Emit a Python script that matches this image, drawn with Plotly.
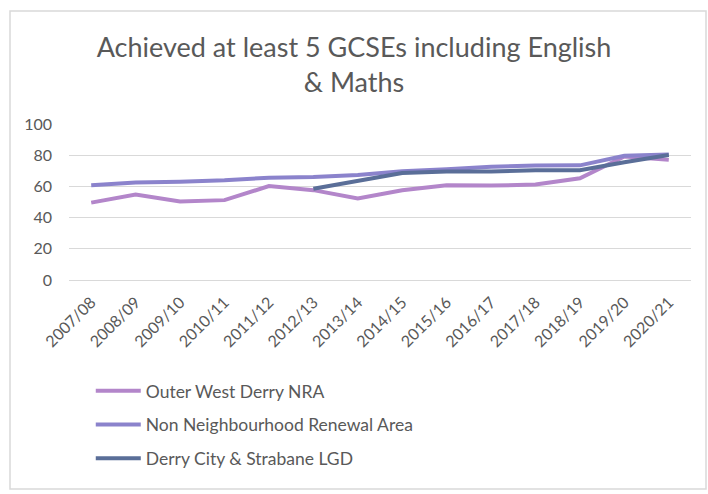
import plotly.graph_objects as go

years = ["2007/08", "2008/09", "2009/10", "2010/11", "2011/12", "2012/13", "2013/14",
         "2014/15", "2015/16", "2016/17", "2017/18", "2018/19", "2019/20", "2020/21"]

outer_west = [49.6, 54.8, 50.3, 51.2, 60.2, 57.6, 52.2, 57.5, 60.8, 60.5, 61.2, 65.2, 79.2, 77.0]
non_nra = [60.7, 62.5, 63.0, 63.9, 65.6, 66.0, 67.3, 69.7, 71.0, 72.6, 73.4, 73.5, 79.6, 80.4]
lgd = [None, None, None, None, None, 58.5, 63.3, 68.6, 69.6, 69.6, 70.3, 70.4, 75.5, 80.1]

names = ["Outer West Derry NRA", "Non Neighbourhood Renewal Area", "Derry City & Strabane LGD"]
colors = ["#B386CA", "#8B83CC", "#5A6E98"]

fig = go.Figure()
for i, (name, vals) in enumerate(zip(names, [outer_west, non_nra, lgd])):
    fig.add_trace(go.Scatter(
        x=years, y=vals, name=name, mode="lines",
        line=dict(color=colors[i], width=4),
        legendgroup=str(i),
    ))

font = "Lato, Calibri, sans-serif"
fig.update_layout(
    width=708, height=494,
    margin=dict(l=69, r=17, t=124, b=214, autoexpand=False),
    paper_bgcolor="white", plot_bgcolor="white",
    font=dict(family=font, color="#595959", size=15),
    title=dict(
        text="Achieved at least 5 GCSEs including English<br>& Maths",
        x=0.5, xanchor="center", xref="container",
        y=0.885, yanchor="top", yref="container",
        font=dict(family=font, size=27, color="#595959"),
    ),
    xaxis=dict(
        type="category", range=[-0.5, 13.5], tickangle=-45,
        showgrid=False, showline=False, ticks="", automargin=False,
        ticklabelstandoff=9,
        tickfont=dict(size=16, color="#595959"),
    ),
    yaxis=dict(
        range=[0, 100], dtick=20, showgrid=True, gridcolor="#D9D9D9", gridwidth=1,
        zeroline=True, zerolinecolor="#D9D9D9", zerolinewidth=1,
        showline=False, ticks="", ticklen=0, automargin=False,
        ticklabelstandoff=16,
        tickfont=dict(size=16, color="#595959"),
    ),
    legend=dict(
        orientation="v", x=0.035, xanchor="left", y=-0.596, yanchor="top",
        tracegroupgap=8, itemwidth=45, font=dict(size=17.5, color="#595959"),
        bgcolor="rgba(0,0,0,0)",
    ),
    showlegend=True,
)

# chart frame
fig.add_shape(
    type="rect", xref="paper", yref="paper",
    x0=(10 - 69) / 622, x1=(706 - 69) / 622,
    y0=(280 - 489) / 156, y1=(280 - 11) / 156,
    line=dict(color="#D9D9D9", width=1.5), layer="below",
)

fig.write_html("out.html", config={"displayModeBar": False},
               post_script="document.body.style.margin='0';")
